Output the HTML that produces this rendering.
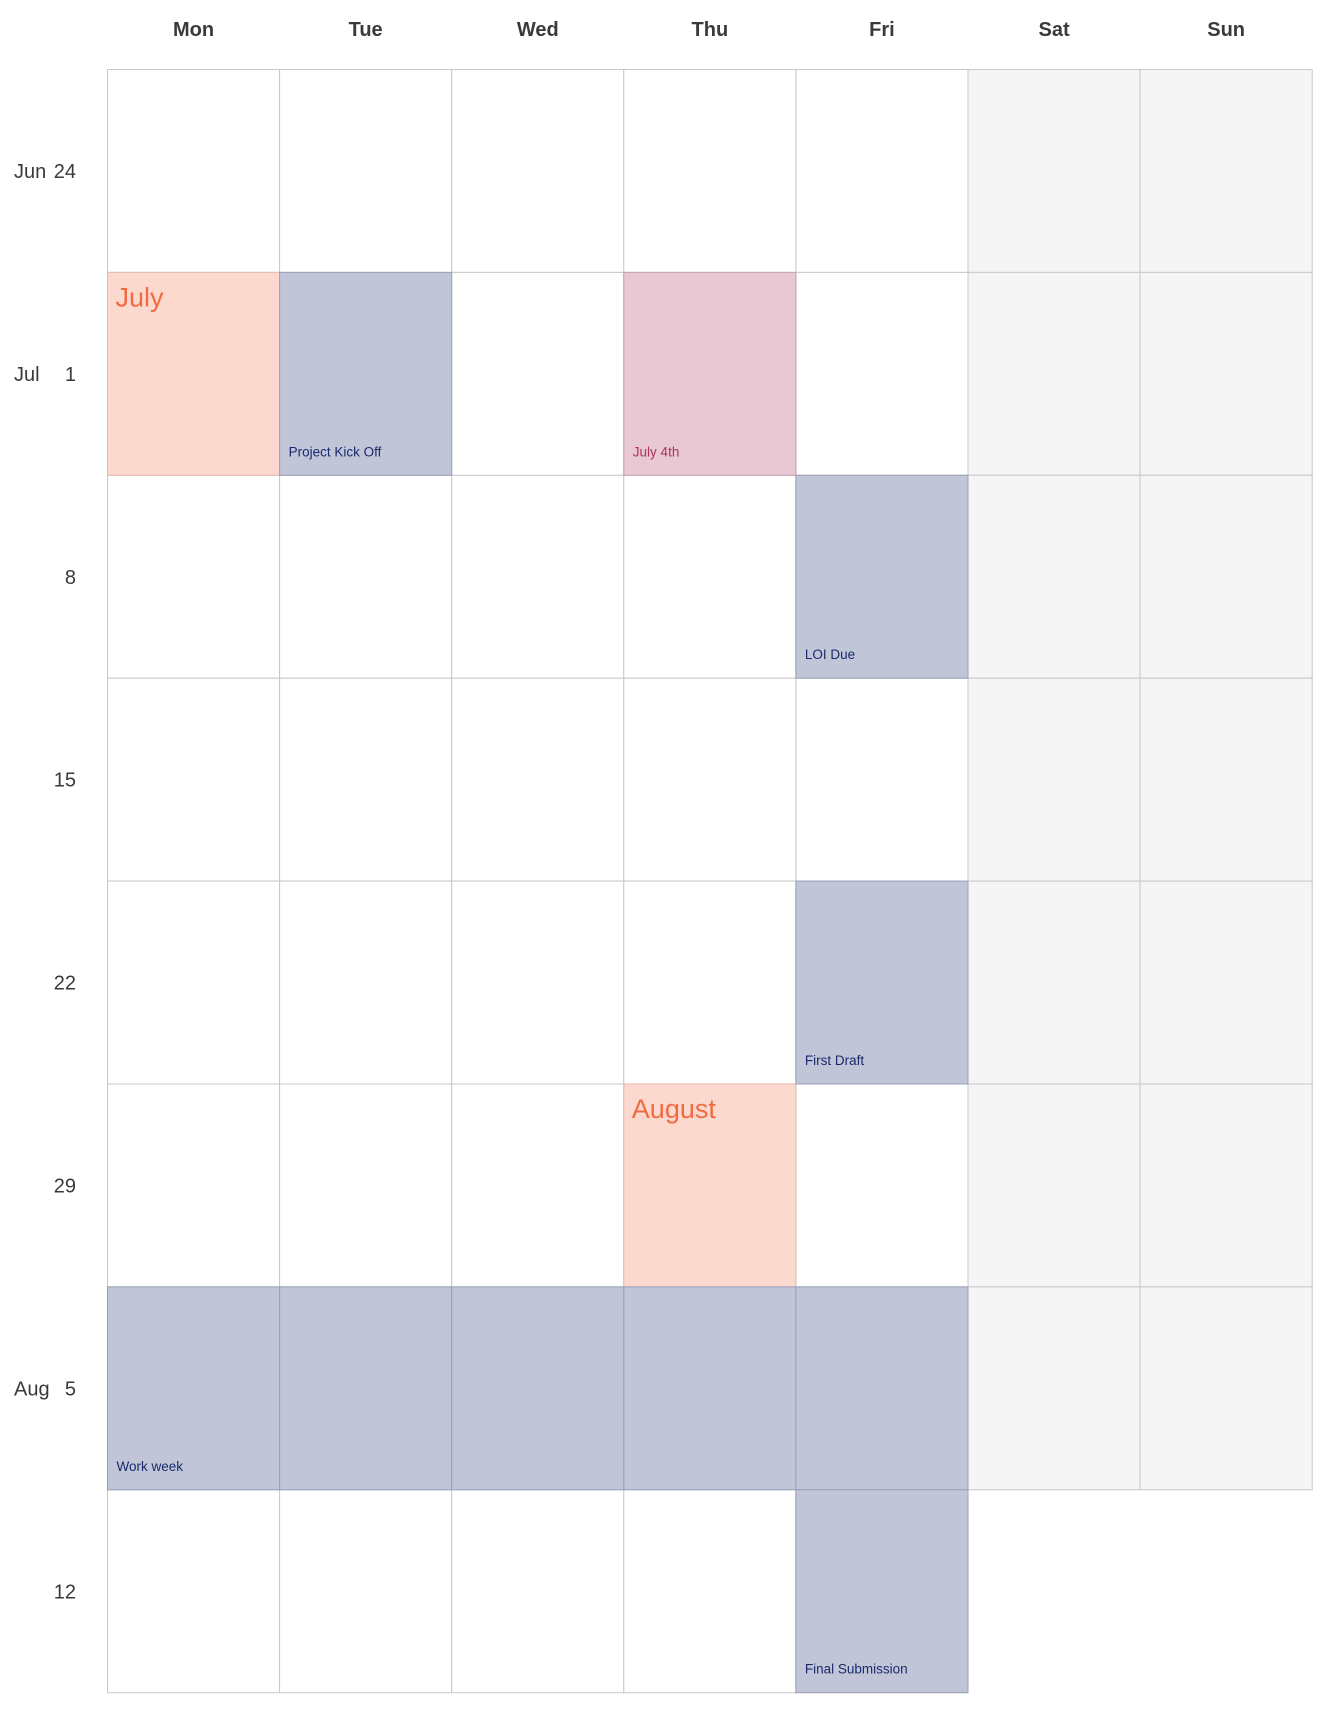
<!DOCTYPE html>
<html><head><meta charset="utf-8"><style>
html,body{margin:0;padding:0;background:#fff;}
svg{display:block;font-family:"Liberation Sans Narrow","Liberation Sans",sans-serif;}
</style></head><body>
<svg id="cal" width="1344" height="1728" viewBox="0 0 1344 1728" xmlns="http://www.w3.org/2000/svg"></svg>
<script>
const days = ["Mon","Tue","Wed","Thu","Fri","Sat","Sun"];
const weekMonths = ["Jun","Jul","","","","","Aug",""];
const weekDays = ["24","1","8","15","22","29","5","12"];
const eventWeeks = [1,1,2,4,6,6,6,6,6,7];
const eventDays = [1,3,4,4,0,1,2,3,4,4];
const eventLabels = ["Project Kick Off","July 4th","LOI Due","First Draft","Work week","","","","","Final Submission"];
const eventTypes = ["task","holiday","task","task","task","task","task","task","task","task"];
const monthWeeks = [1,5];
const monthDays = [0,3];
const monthLabels = ["July","August"];
const lastWeekDays = 5;

const svg = document.getElementById('cal');
const NS = 'http://www.w3.org/2000/svg';
const X0 = 107.5, Y0 = 69.5, CW = 172.1, RH = 202.9;
const xPos = d => X0 + d*CW;
const yPos = w => Y0 + w*RH;
function mk(tag, attrs){const e=document.createElementNS(NS,tag);for(const k in attrs)e.setAttribute(k,attrs[k]);svg.appendChild(e);return e;}

days.forEach((d,i)=>{
  const t = mk('text',{x:xPos(i)+CW/2,y:36,'text-anchor':'middle','font-size':20,'font-weight':'bold',fill:'#3a3a3a'});
  
  
  t.textContent=d;
});

weekDays.forEach((wd,w)=>{
  const n = (w===weekDays.length-1)?lastWeekDays:7;
  for(let d=0;d<n;d++){
    const r = mk('rect',{x:xPos(d),y:yPos(w),width:CW,height:RH,fill:d>=5?'#f5f5f5':'#fff',stroke:'#c8c8c8','stroke-width':1});
    
    
  }
  const cy = yPos(w)+RH/2+7;
  const t = mk('text',{x:76,y:cy,'text-anchor':'end','font-size':20,fill:'#3a3a3a'});
  
  
  t.textContent=wd;
  if(weekMonths[w]){
    const m = mk('text',{x:14,y:cy,'font-size':20,fill:'#3a3a3a'});
    
    
    m.textContent=weekMonths[w];
  }
});

monthLabels.forEach((lab,i)=>{
  const x=xPos(monthDays[i]), y=yPos(monthWeeks[i]);
  const r = mk('rect',{x:x,y:y,width:CW,height:RH,fill:'#fbd9cf',stroke:'#e8b8aa','stroke-width':1});
  
  
  const t = mk('text',{x:x+8,y:y+34,'font-size':27,fill:'#f26a3f'});
  
  
  t.textContent=lab;
});

eventLabels.forEach((lab,i)=>{
  const x=xPos(eventDays[i]), y=yPos(eventWeeks[i]);
  const hol = eventTypes[i]==='holiday';
  const r = mk('rect',{x:x,y:y,width:CW,height:RH,fill:hol?'#e7c8d3':'#c0c6d8',stroke:hol?'#c9a0b0':'#9aa0b8','stroke-width':1});
  
  
  if(lab){
    const t = mk('text',{x:x+9,y:y+RH-19,'font-size':13.5,fill:hol?'#b03060':'#1a2a6c'});
    
    
    t.textContent=lab;
  }
});
</script>
</body></html>
